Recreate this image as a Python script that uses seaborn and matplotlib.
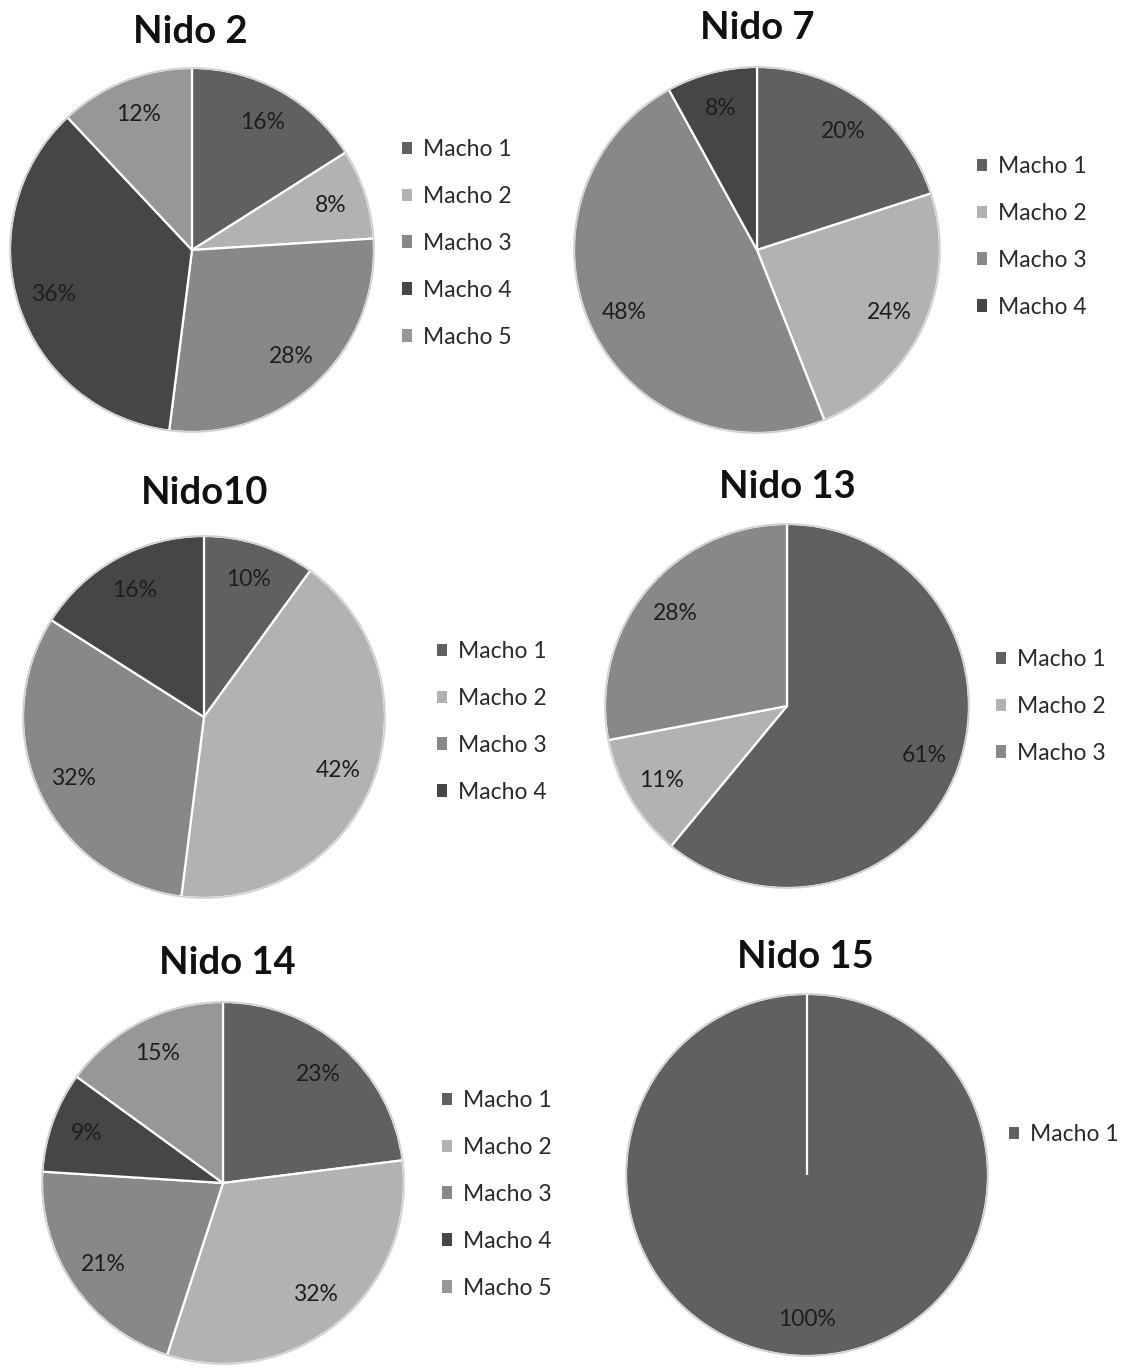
import matplotlib
matplotlib.use("Agg")
import matplotlib.pyplot as plt
from matplotlib.patches import Patch
import seaborn as sns

sns.set_theme(style="white")
plt.rcParams["font.family"] = ["Lato", "DejaVu Sans"]

# Share of each male per nest (percent)
nido_2 = [16, 8, 28, 36, 12]
nido_7 = [20, 24, 48, 8]
nido_10 = [10, 42, 32, 16]
nido_13 = [61, 11, 28]
nido_14 = [23, 32, 21, 9, 15]
nido_15 = [100]

titles = ["Nido 2", "Nido 7", "Nido10", "Nido 13", "Nido 14", "Nido 15"]
machos = ["Macho 1", "Macho 2", "Macho 3", "Macho 4", "Macho 5"]
series = [nido_2, nido_7, nido_10, nido_13, nido_14, nido_15]

# Grey shades per male
greys = ["#606060", "#b2b2b2", "#888888", "#464646", "#979797"]

W, H = 1125, 1369
fig = plt.figure(figsize=(W / 100, H / 100), dpi=100)
fig.patch.set_facecolor("white")

# layout in pixels: pie centre, radius, title centre, legend top-left
layout = [
    dict(c=(192, 250), r=182, t=(190, 32), lg=(402, 139)),
    dict(c=(757, 250), r=183, t=(757, 28), lg=(977, 156)),
    dict(c=(204, 717), r=181, t=(205, 493), lg=(437, 641)),
    dict(c=(787, 706), r=182, t=(787, 487), lg=(996, 649)),
    dict(c=(223, 1183), r=181, t=(227, 963), lg=(442, 1090)),
    dict(c=(807, 1175), r=181, t=(805, 957), lg=(1009, 1124)),
]

for vals, title, lay in zip(series, titles, layout):
    cx, cy = lay["c"]
    r = lay["r"]
    pad = 1.03
    side = 2 * r * pad
    ax = fig.add_axes([(cx - side / 2) / W, 1 - (cy + side / 2) / H, side / W, side / H])
    cols = greys[: len(vals)]
    wedges, _, autotexts = ax.pie(
        vals,
        colors=cols,
        startangle=90,
        counterclock=False,
        autopct=lambda p: f"{p:.0f}%",
        pctdistance=0.8,
        radius=1,
        wedgeprops=dict(edgecolor="white", linewidth=1.6),
        textprops=dict(fontsize=16.5, color="#1e1e1e"),
    )
    if len(vals) == 1:
        ax.vlines(0, 0, 1, colors="white", linewidth=1.6)
    # faint rim around the pie
    rim = plt.Circle((0, 0), 1.0, fill=False, edgecolor="#d0d0d0", linewidth=1.2)
    ax.add_patch(rim)
    ax.set_xlim(-pad, pad)
    ax.set_ylim(-pad, pad)
    ax.set_aspect("equal")
    ax.axis("off")

    tx, ty = lay["t"]
    fig.text(tx / W, 1 - ty / H, title, ha="center", va="center",
             fontsize=27.5, fontweight="bold", color="#111111")

    handles = [Patch(facecolor=c, edgecolor="none") for c in cols]
    lx, ly = lay["lg"]
    fig.legend(handles, machos[: len(vals)], loc="upper left",
               bbox_to_anchor=(lx / W, 1 - ly / H), frameon=False,
               fontsize=16.5, handlelength=0.45, handleheight=0.45,
               handletextpad=0.45, labelspacing=1.13, borderpad=0,
               borderaxespad=0, labelcolor="#2a2a2a")

fig.savefig("out.png", dpi=100, facecolor="white")
